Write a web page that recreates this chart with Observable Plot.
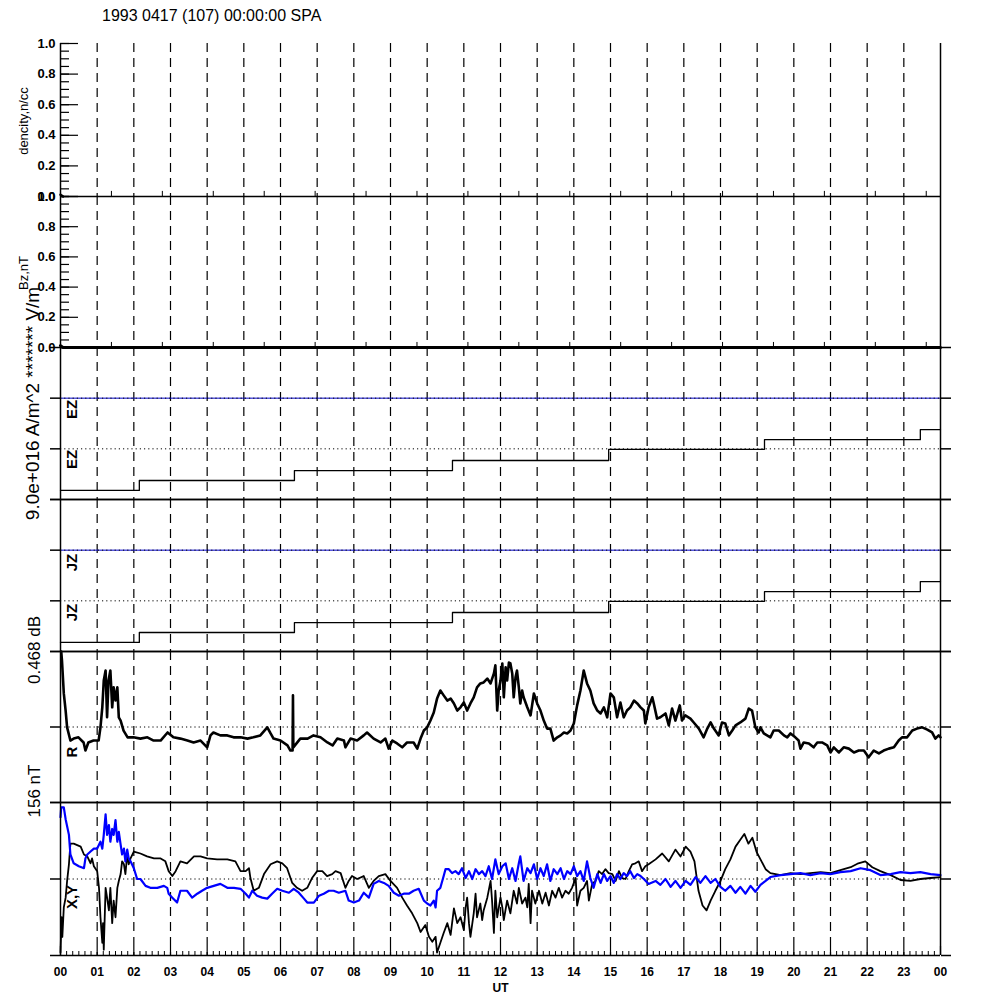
<!DOCTYPE html>
<html>
<head>
<meta charset="utf-8">
<script src="https://cdn.jsdelivr.net/npm/d3@7"></script>
<script src="https://cdn.jsdelivr.net/npm/@observablehq/plot@0.6"></script>
<style>
html,body{margin:0;padding:0;background:#fff;}
#fig{position:relative;width:1000px;height:1000px;background:#fff;overflow:hidden;}
#title{position:absolute;left:102px;top:8px;font-family:"Liberation Sans",Arial,Helvetica,sans-serif;font-size:16px;line-height:16px;color:#000;white-space:nowrap;}
</style>
</head>
<body>
<div id="fig"><div id="title"></div></div>
<script>
// ---------------- data ----------------
const titleText = "1993 0417 (107) 00:00:00 SPA";
const hourLabels = ["00","01","02","03","04","05","06","07","08","09","10","11","12",
                    "13","14","15","16","17","18","19","20","21","22","23","00"];
const unitTicks = [0, 0.2, 0.4, 0.6, 0.8, 1.0];

const densityLabel = "dencity,n/cc";
const densityHours = [0.00, 0.07];
const densityValues = [0.012, 0.0];

const bzLabel = "Bz,nT";
const bzHours = [0.00, 0.07, 24.0];
const bzValues = [0.012, 0.0, 0.0];

const fieldLabel = "9.0e+016 A/m^2 ******* V/m";
const stepHours = [0, 2.15, 6.38, 10.69, 14.95, 19.2, 23.45, 24];
const ezValues = [0.18, 0.375, 0.57, 0.77, 0.99, 1.18, 1.38, 1.38];
const jzValues = [0.18, 0.375, 0.57, 0.77, 0.99, 1.18, 1.38, 1.38];

const rScaleLabel = "0.468 dB";
const rHours = [0.02,0.04,0.09,0.14,0.18,0.27,0.36,0.49,0.63,0.68,0.76,0.90,1.04,1.09,1.14,1.18,1.23,1.27,1.31,1.36,
  1.41,1.45,1.50,1.55,1.59,1.64,1.72,1.83,1.99,2.18,2.37,2.54,2.73,2.92,3.08,3.27,3.46,3.63,3.82,4.00,
  4.09,4.17,4.36,4.55,4.72,4.91,5.10,5.26,5.45,5.64,5.73,5.81,6.00,6.19,6.27,6.33,6.34,6.35,6.54,6.74,
  6.90,7.09,7.28,7.42,7.55,7.73,7.77,7.91,8.09,8.27,8.36,8.54,8.73,8.86,8.95,9.05,9.18,9.32,9.45,9.63,
  9.73,9.82,9.91,10.00,10.09,10.18,10.27,10.36,10.45,10.55,10.64,10.73,10.82,10.91,11.00,11.09,11.18,11.27,11.36,11.45,
  11.54,11.64,11.73,11.82,11.86,11.91,11.95,12.00,12.05,12.09,12.14,12.18,12.23,12.27,12.32,12.36,12.41,12.45,12.50,12.54,
  12.59,12.63,12.73,12.82,12.91,13.00,13.09,13.18,13.27,13.36,13.45,13.55,13.64,13.73,13.82,13.91,14.00,14.09,14.18,14.27,
  14.36,14.45,14.54,14.64,14.73,14.82,14.91,15.00,15.09,15.18,15.27,15.36,15.45,15.54,15.64,15.73,15.82,15.91,15.95,16.04,
  16.14,16.18,16.27,16.36,16.50,16.59,16.68,16.77,16.89,16.95,17.04,17.18,17.27,17.41,17.54,17.64,17.73,17.82,17.95,18.04,
  18.13,18.23,18.32,18.41,18.54,18.68,18.77,18.86,18.95,19.04,19.09,19.18,19.27,19.36,19.45,19.59,19.73,19.82,19.91,20.04,
  20.13,20.18,20.27,20.41,20.54,20.64,20.77,20.91,21.00,21.09,21.23,21.36,21.50,21.64,21.77,21.91,22.04,22.18,22.32,22.45,
  22.59,22.73,22.86,22.95,23.09,23.23,23.36,23.50,23.64,23.77,23.86,23.95,24.00];
const rDb = [0.468,0.440,0.338,0.285,0.233,0.192,0.198,0.202,0.186,0.161,0.186,0.192,0.192,0.233,0.295,0.378,0.409,0.264,0.378,0.409,
  0.295,0.357,0.316,0.357,0.264,0.254,0.223,0.202,0.202,0.198,0.202,0.192,0.192,0.217,0.202,0.198,0.192,0.186,0.192,0.171,
  0.208,0.217,0.208,0.208,0.202,0.202,0.198,0.202,0.208,0.233,0.214,0.198,0.192,0.177,0.161,0.161,0.332,0.171,0.198,0.198,
  0.208,0.202,0.186,0.177,0.198,0.192,0.171,0.198,0.192,0.208,0.217,0.198,0.186,0.198,0.167,0.192,0.183,0.171,0.186,0.186,
  0.167,0.198,0.223,0.233,0.254,0.279,0.322,0.347,0.332,0.316,0.322,0.307,0.285,0.295,0.310,0.285,0.307,0.326,0.357,0.369,
  0.372,0.384,0.369,0.400,0.425,0.285,0.347,0.378,0.431,0.326,0.419,0.378,0.434,0.431,0.400,0.326,0.388,0.409,0.357,0.307,
  0.347,0.326,0.295,0.270,0.338,0.307,0.285,0.254,0.229,0.229,0.192,0.202,0.208,0.217,0.214,0.223,0.245,0.301,0.347,0.409,
  0.369,0.347,0.307,0.285,0.276,0.295,0.264,0.338,0.326,0.264,0.310,0.264,0.285,0.295,0.316,0.307,0.295,0.285,0.245,0.295,
  0.326,0.307,0.260,0.264,0.276,0.239,0.291,0.254,0.301,0.254,0.270,0.260,0.248,0.229,0.202,0.229,0.248,0.229,0.208,0.248,
  0.245,0.208,0.223,0.239,0.248,0.260,0.291,0.285,0.233,0.217,0.233,0.214,0.208,0.202,0.223,0.223,0.208,0.202,0.214,0.202,
  0.192,0.167,0.186,0.183,0.171,0.186,0.186,0.177,0.155,0.171,0.155,0.171,0.167,0.155,0.161,0.161,0.140,0.161,0.152,0.161,
  0.167,0.171,0.192,0.202,0.202,0.223,0.229,0.233,0.226,0.217,0.198,0.208,0.202];

const xyScaleLabel = "156 nT";
const xHours = [0.00,0.03,0.05,0.09,0.14,0.18,0.23,0.27,0.36,0.55,0.64,0.73,0.82,0.86,0.91,1.00,1.05,1.09,1.14,1.16,
  1.18,1.23,1.27,1.32,1.36,1.41,1.45,1.50,1.55,1.59,1.64,1.68,1.73,1.77,1.82,1.86,1.91,2.00,2.18,2.36,
  2.55,2.73,2.86,2.95,3.05,3.14,3.27,3.45,3.64,3.82,4.00,4.27,4.55,4.77,4.91,5.05,5.14,5.18,5.27,5.41,
  5.55,5.73,5.91,6.05,6.18,6.32,6.45,6.59,6.73,6.86,7.00,7.14,7.27,7.41,7.50,7.64,7.77,7.86,7.95,8.09,
  8.27,8.41,8.54,8.68,8.86,9.00,9.18,9.32,9.45,9.59,9.73,9.82,9.95,10.05,10.14,10.23,10.27,10.36,10.45,10.55,
  10.64,10.73,10.82,10.91,11.00,11.05,11.09,11.14,11.18,11.27,11.32,11.36,11.45,11.50,11.54,11.64,11.73,11.77,11.82,11.86,
  11.91,12.00,12.05,12.09,12.18,12.27,12.36,12.45,12.50,12.59,12.68,12.73,12.77,12.82,12.86,12.95,13.05,13.14,13.23,13.32,
  13.41,13.50,13.59,13.68,13.77,13.86,13.95,14.05,14.09,14.18,14.27,14.36,14.41,14.50,14.59,14.68,14.77,14.86,14.95,15.05,
  15.14,15.23,15.32,15.41,15.50,15.59,15.68,15.77,15.86,15.95,16.04,16.23,16.41,16.59,16.77,16.91,17.05,17.18,17.29,17.40,
  17.51,17.62,17.73,17.86,18.00,18.13,18.27,18.41,18.54,18.65,18.76,18.87,18.98,19.09,19.23,19.36,19.64,19.91,20.18,20.45,
  20.73,21.00,21.27,21.55,21.76,21.95,22.14,22.36,22.64,22.91,23.18,23.45,23.73,24.00];
const xNt = [-75,-39,-59,-29,-19,-2,15,36,36,33,25,23,16,21,13,8,-9,-39,-65,-45,
  -72,-9,-19,-32,-9,-45,-22,-39,-9,-2,5,18,15,5,25,15,21,28,26,23,
  21,21,18,8,3,8,18,16,23,23,21,20,20,18,8,8,11,1,-12,-9,
  5,15,18,16,11,-4,-9,-12,-9,1,8,8,3,5,8,6,-9,-2,3,0,
  3,-9,-2,3,5,-2,-9,-19,-27,-35,-45,-54,-47,-59,-64,-59,-75,-65,-55,-45,
  -57,-30,-45,-39,-52,-29,-19,-45,-59,-35,-15,-39,-25,-42,-32,-19,-2,-22,-55,-12,
  -39,-19,-29,-42,-22,-35,-12,-25,-9,-25,-19,-29,-5,-45,-12,-25,-12,-25,-14,-27,
  -12,-19,-9,-19,-12,-15,-9,1,-27,-12,-9,-2,-22,-5,-2,8,5,10,6,5,
  -2,8,1,0,8,15,16,18,8,13,15,20,26,18,30,23,33,28,18,-12,
  -27,-32,-22,-12,-2,10,20,33,40,46,36,42,28,20,10,6,4,6,5,6,
  7,6,9,12,16,18,12,8,4,-1,-2,0,1,2];

const yHours = [0.00,0.02,0.09,0.14,0.23,0.27,0.36,0.50,0.64,0.68,0.73,0.82,0.91,1.00,1.09,1.14,1.18,1.23,1.27,1.32,
  1.36,1.41,1.45,1.50,1.55,1.59,1.64,1.68,1.73,1.77,1.82,1.86,1.91,2.00,2.09,2.18,2.32,2.45,2.64,2.82,
  2.91,2.95,3.05,3.18,3.27,3.36,3.45,3.59,3.73,3.86,4.00,4.18,4.36,4.55,4.73,4.91,5.05,5.14,5.23,5.36,
  5.50,5.64,5.77,5.91,6.05,6.23,6.36,6.50,6.64,6.73,6.91,7.05,7.18,7.32,7.45,7.59,7.77,7.86,8.00,8.14,
  8.27,8.41,8.54,8.68,8.82,8.95,9.09,9.23,9.36,9.50,9.63,9.77,9.91,10.00,10.09,10.18,10.23,10.27,10.36,10.45,
  10.50,10.59,10.68,10.77,10.86,10.95,11.05,11.14,11.23,11.32,11.41,11.50,11.59,11.68,11.77,11.86,11.95,12.05,12.14,12.23,
  12.32,12.41,12.50,12.54,12.63,12.73,12.82,12.91,13.00,13.09,13.18,13.27,13.36,13.45,13.55,13.64,13.73,13.82,13.91,14.00,
  14.09,14.18,14.27,14.36,14.45,14.54,14.64,14.73,14.82,14.91,15.00,15.09,15.18,15.27,15.36,15.45,15.54,15.64,15.73,15.82,
  15.91,16.04,16.23,16.36,16.50,16.64,16.77,16.91,17.05,17.18,17.32,17.45,17.59,17.73,17.86,18.00,18.13,18.27,18.41,18.54,
  18.68,18.82,18.95,19.09,19.23,19.36,19.64,19.91,20.18,20.45,20.73,21.00,21.27,21.55,21.82,22.09,22.36,22.64,22.91,23.18,
  23.45,23.73,24.00];
const yNt = [63,73,73,61,45,25,16,13,11,21,25,28,31,31,38,31,45,66,45,55,
  38,51,45,60,38,48,35,25,31,18,30,21,18,11,0,0,-7,-9,-9,-7,
  -9,-15,-19,-24,-12,-12,-12,-19,-15,-12,-9,-7,-5,-9,-9,-10,-15,-19,-12,-17,
  -19,-20,-15,-10,-12,-14,-10,-14,-20,-24,-24,-17,-15,-12,-12,-14,-12,-22,-24,-22,
  -14,-19,-5,-2,-4,-7,-14,-17,-15,-15,-12,-10,-22,-25,-27,-22,-29,-12,-9,3,
  10,10,6,8,5,11,1,8,0,10,5,8,3,13,0,20,5,13,16,0,
  11,-2,16,23,-2,11,6,15,0,11,3,15,-2,10,5,11,0,8,5,13,
  3,8,-2,18,1,-9,5,-4,5,-2,3,-4,5,0,6,3,8,1,5,3,
  0,-5,-2,-6,0,-8,-2,-9,-2,-6,2,-4,3,-4,0,-8,-12,-7,-14,-8,
  -15,-7,-13,-6,-2,2,4,5,6,4,6,5,7,8,11,9,4,5,7,6,
  7,5,4];

// ---------------- layout / style ----------------
const W = 1000, ML = 60, MR = 60;
const FONT = "'Liberation Sans', Arial, Helvetica, sans-serif";
const panelEdges = [43, 196, 347, 499, 651, 802, 955];
const hPerPx = 24 / (W - ML - MR);
const hourTicks = d3.range(0, 25);
const dashHours = d3.range(1, 24);
const minorHours = d3.range(0, 24 * 6 + 1).map(i => i / 6).filter((d, i) => i % 6 !== 0);
const secTicks = d3.range(5000, 86400, 5000).map(s => s / 3600);   // 5000 s ticks of the upper panels
const unitMinor = d3.range(0, 21).map(i => i * 0.05);
document.getElementById("title").textContent = titleText;
const fig = document.getElementById("fig");

const solid = {stroke: "black", strokeWidth: 1.5};
const dotted = {stroke: "black", strokeWidth: 1, strokeDasharray: "1.2,3"};
const sideText = {frameAnchor: "left", textAnchor: "middle", lineAnchor: "middle", rotate: -90};

function addPanel(i, yDomain, marks, mb = 0) {
  const top = panelEdges[i], h = panelEdges[i + 1] - top;
  const svg = Plot.plot({
    width: W, height: h + mb,
    marginLeft: ML, marginRight: MR, marginTop: 0, marginBottom: mb,
    style: {fontFamily: FONT, fontSize: "12px", overflow: "visible", background: "none", color: "black"},
    x: {domain: [0, 24], label: null, axis: null},
    y: {domain: yDomain, label: null, axis: null},
    marks: [
      Plot.ruleX(dashHours, {x: d => d, stroke: "black", strokeWidth: 1.2, strokeDasharray: "9,6"}),
      ...marks,
      Plot.ruleX([0, 24], {x: d => d, ...solid})
    ]
  });
  svg.style.position = "absolute";
  svg.style.left = "0px";
  svg.style.top = top + "px";
  fig.appendChild(svg);
}

function unitPanel(i, label, hrs, vals, lw) {
  addPanel(i, [0, 1], [
    Plot.ruleY(unitMinor, {y: d => d, x1: 0, x2: 9 * hPerPx, stroke: "black", strokeWidth: 1.2}),
    Plot.ruleY(unitTicks, {y: d => d, x1: 0, x2: 18 * hPerPx, stroke: "black", strokeWidth: 1.2}),
    Plot.ruleX(secTicks, {x: d => d, y1: 0, y2: 5 / 150, stroke: "black", strokeWidth: 1}),
    Plot.axisY({ticks: unitTicks, tickSize: 0, tickPadding: 5, tickFormat: d3.format(".1f"), fontSize: 13, fontWeight: "bold", label: null}),
    Plot.ruleY([0], {y: d => d, ...solid}),
    Plot.line(vals, {x: hrs, y: vals, stroke: "black", strokeWidth: lw}),
    Plot.text([label], {text: d => d, ...sideText, dx: -37, dy: 1, fontSize: 13})
  ]);
}

function edgeTicks(ticks) {
  return [
    Plot.axisY({anchor: "left", ticks, tickSize: 10, tickFormat: () => "", strokeWidth: 1.5, label: null}),
    Plot.axisY({anchor: "right", ticks, tickSize: 10, tickFormat: () => "", strokeWidth: 1.5, label: null})
  ];
}

function stepPanel(i, vals, tag, dys, extra) {
  addPanel(i, [0, 3], [
    Plot.ruleY([2], {y: d => d, stroke: "#0000cc", strokeWidth: 1}),
    Plot.ruleY([1, 2], {y: d => d, ...dotted}),
    Plot.ruleY([0, 3], {y: d => d, ...solid}),
    ...edgeTicks([0, 1, 2, 3]),
    Plot.line(vals, {x: stepHours, y: vals, curve: "step-after", stroke: "black", strokeWidth: 1.3}),
    Plot.text([tag], {text: d => d, ...sideText, dx: 12, dy: dys[0], fontSize: 15, fontWeight: "bold"}),
    Plot.text([tag], {text: d => d, ...sideText, dx: 12, dy: dys[1], fontSize: 15, fontWeight: "bold"}),
    ...extra
  ]);
}

// panel 1: density
unitPanel(0, densityLabel, densityHours, densityValues, 2.5);
// panel 2: Bz
unitPanel(1, bzLabel, bzHours, bzValues, 3);
// panel 3: EZ
stepPanel(2, ezValues, "EZ", [-14, 36], [
  Plot.text([fieldLabel], {text: d => d, ...sideText, dx: -28, dy: -20, fontSize: 19})
]);
// panel 4: JZ
stepPanel(3, jzValues, "JZ", [-13, 37], []);

// panel 5: R
const rDomain = [0, 0.468];
const rMid = 0.234;
addPanel(4, rDomain, [
  Plot.ruleY([rMid], {y: d => d, ...dotted}),
  Plot.ruleY(rDomain, {y: d => d, ...solid}),
  ...edgeTicks([rDomain[0], rMid, rDomain[1]]),
  Plot.line(rDb, {x: rHours, y: rDb, stroke: "black", strokeWidth: 2.6}),
  Plot.text(["R"], {text: d => d, ...sideText, dx: 12, dy: 25, fontSize: 15, fontWeight: "bold"}),
  Plot.text([rScaleLabel], {text: d => d, ...sideText, dx: -26, dy: -77, fontSize: 17})
]);

// panel 6: X,Y
const xyDomain = [-78, 78];
const ntPerPx = (xyDomain[1] - xyDomain[0]) / (panelEdges[6] - panelEdges[5]);
addPanel(5, xyDomain, [
  Plot.ruleY([0], {y: d => d, ...dotted}),
  Plot.ruleY(xyDomain, {y: d => d, ...solid}),
  ...edgeTicks([xyDomain[0], 0, xyDomain[1]]),
  Plot.ruleX(minorHours, {x: d => d, y1: xyDomain[0], y2: xyDomain[0] + 4 * ntPerPx, stroke: "black", strokeWidth: 1}),
  Plot.ruleX(hourTicks, {x: d => d, y1: xyDomain[0], y2: xyDomain[0] + 9 * ntPerPx, stroke: "black", strokeWidth: 1.2}),
  Plot.line(xNt, {x: xHours, y: xNt, stroke: "black", strokeWidth: 1.8}),
  Plot.line(yNt, {x: yHours, y: yNt, stroke: "#0000ff", strokeWidth: 2.2}),
  Plot.axisX({ticks: hourTicks, tickSize: 0, tickPadding: 12, tickFormat: d => hourLabels[d], fontSize: 12, fontWeight: "bold", label: null}),
  Plot.text(["UT"], {text: d => d, frameAnchor: "bottom", lineAnchor: "middle", dy: 33, fontSize: 12, fontWeight: "bold"}),
  Plot.text(["X,Y"], {text: d => d, ...sideText, dx: 12, dy: 18, fontSize: 15, fontWeight: "bold"}),
  Plot.text([xyScaleLabel], {text: d => d, ...sideText, dx: -26, dy: -88, fontSize: 17})
], 45);
</script>
</body>
</html>
